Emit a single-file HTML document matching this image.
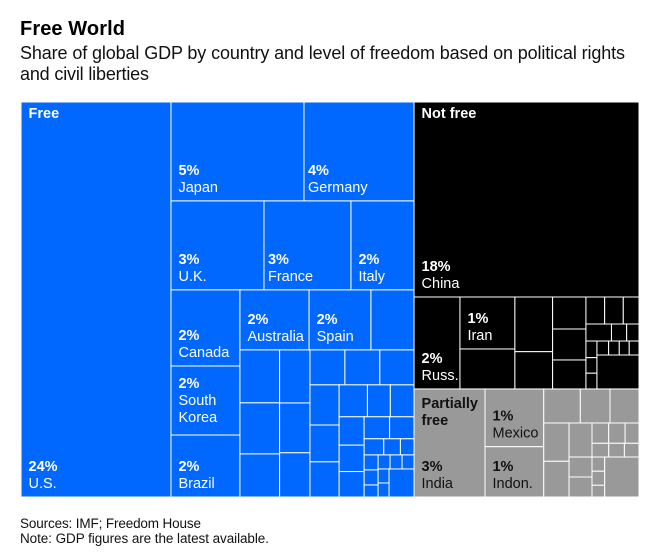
<!DOCTYPE html>
<html>
<head>
<meta charset="utf-8">
<title>Free World</title>
<style>
html,body{margin:0;padding:0;background:#fff;width:658px;height:558px;overflow:hidden}
svg{display:block}
text{font-family:"Liberation Sans",sans-serif}
.title{font-size:20px;font-weight:bold;fill:#000}
.sub{font-size:18px;fill:#111}
.foot{font-size:13.5px;fill:#111}
.pct{font-size:14.5px;font-weight:bold}
.name{font-size:14.5px}
.head{font-size:14.5px;font-weight:bold}
</style>
</head>
<body>
<svg id="chart" width="658" height="558" viewBox="0 0 658 558">
  <text class="title" x="20" y="35" textLength="105" lengthAdjust="spacing">Free World</text>
  <text class="sub" x="20" y="59" textLength="605" lengthAdjust="spacing">Share of global GDP by country and level of freedom based on political rights</text>
  <text class="sub" x="20" y="80" textLength="129" lengthAdjust="spacing">and civil liberties</text>
  <g id="treemap"></g>
  <text class="foot" x="20" y="528" textLength="181" lengthAdjust="spacing">Sources: IMF; Freedom House</text>
  <text class="foot" x="20" y="543" textLength="249" lengthAdjust="spacing">Note: GDP figures are the latest available.</text>
</svg>
<script>
// Share of global GDP (%), one entry per tile, in reading order of each group's tree.
const freeShares = [
  24.27, 5.39, 4.46, 3.39, 3.17, 2.30, 2.15, 1.95, 1.75, 1.70, 1.52, 1.06,
  0.86, 0.83, 0.70, 0.66, 0.62, 0.55, 0.50, 0.50, 0.49, 0.48, 0.44, 0.42,
  0.37, 0.30, 0.31, 0.29, 0.27, 0.26, 0.23, 0.22, 0.13, 0.11, 0.09,
  0.086, 0.086, 0.069, 0.069, 0.069, 0.069, 0.063, 0.063, 0.287
];
const notFreeShares = [
  17.97, 1.73, 1.17, 0.90, 0.845, 0.576, 0.437, 0.423, 0.396,
  0.207, 0.206, 0.174, 0.178, 0.106, 0.086, 0.075, 0.070, 0.071,
  0.067, 0.061, 0.057, 0.056, 0.585
];
const partlyFreeShares = [
  3.14, 1.39, 1.21, 0.510, 0.414, 0.404, 0.397, 0.370, 0.320,
  0.139, 0.136, 0.116, 0.094, 0.088, 0.082,
  0.188, 0.188, 0.074, 0.073, 0.061, 0.562
];

// Printed labels for the leading tiles of each group.
const freeNames = ['U.S.', 'Japan', 'Germany', 'U.K.', 'France', 'Italy', 'Canada', 'South|Korea', 'Brazil', 'Australia', 'Spain'];
const freePrinted = ['24%', '5%', '4%', '3%', '3%', '2%', '2%', '2%', '2%', '2%', '2%'];
const notFreeNames = ['China', 'Russ.', 'Iran'];
const notFreePrinted = ['18%', '2%', '1%'];
const partlyFreeNames = ['India', 'Mexico', 'Indon.'];
const partlyFreePrinted = ['3%', '1%', '1%'];
// Labels the reference sets closer to the left edge of their tile.
const tightLabels = ['Germany', 'France'];

// Nesting of the tiles: 'h' splits left-to-right, 'v' splits top-to-bottom, 0 is the next tile.
const freeTree = ['h', 0,
  ['v',
    ['h', 0, 0],
    ['h', 0, 0, 0],
    ['h',
      ['v', 0, 0, 0],
      ['v',
        ['h', 0, 0, 0],
        ['h',
          ['v', 0, 0, 0],
          ['v', 0, 0, 0],
          ['v',
            ['h', 0, 0, 0],
            ['h',
              ['v', 0, 0, 0],
              ['v',
                ['h', 0, 0, 0],
                ['h',
                  ['v', 0, 0, 0],
                  ['v',
                    ['h', 0, 0],
                    ['h', 0, 0, 0],
                    ['h',
                      ['v', 0, 0, 0],
                      ['v',
                        ['h', 0, 0, 0],
                        ['h', ['v', 0, 0], 0]
                      ]
                    ]
                  ]
                ]
              ]
            ]
          ]
        ]
      ]
    ]
  ]
];
const notFreeTree = ['v', 0,
  ['h', 0,
    ['v', 0, 0],
    ['v', 0, 0],
    ['v', 0, 0, 0],
    ['v',
      ['h', 0, 0, 0],
      ['h', 0, 0, 0],
      ['h',
        ['v', 0, 0, 0],
        ['v', ['h', 0, 0, 0, 0], 0]
      ]
    ]
  ]
];
const partlyFreeTree = ['h', 0,
  ['v', 0, 0],
  ['v',
    ['h', 0, 0, 0],
    ['h',
      ['v', 0, 0],
      ['v',
        ['h', 0, ['v', ['h', 0, 0, 0], ['h', 0, 0, 0]]],
        ['h', ['v', 0, 0], ['v', 0, 0, 0], 0]
      ]
    ]
  ]
];

const SVGNS = 'http://www.w3.org/2000/svg';
const host = document.getElementById('treemap');
const plot = { x: 21, y: 102, w: 618, h: 395 };

function attachValues(node, values, cursor) {
  if (node === 0) {
    const idx = cursor.i++;
    return { leaf: true, index: idx, weight: values[idx] };
  }
  const kids = node.slice(1).map(function (c) { return attachValues(c, values, cursor); });
  return { dir: node[0], kids: kids, weight: kids.reduce(function (s, k) { return s + k.weight; }, 0) };
}
function build(tree, values) {
  return attachValues(tree, values, { i: 0 });
}
function layout(node, x, y, w, h, out) {
  node.box = { x: x, y: y, w: w, h: h };
  if (node.leaf) { out.push(node); return; }
  let pos = 0;
  node.kids.forEach(function (k) {
    const frac = k.weight / node.weight;
    if (node.dir === 'h') {
      layout(k, x + pos, y, w * frac, h, out);
      pos += w * frac;
    } else {
      layout(k, x, y + pos, w, h * frac, out);
      pos += h * frac;
    }
  });
}
function addText(parent, cls, x, y, fill, str) {
  const t = document.createElementNS(SVGNS, 'text');
  t.setAttribute('class', cls);
  t.setAttribute('x', x);
  t.setAttribute('y', y);
  t.setAttribute('fill', fill);
  t.textContent = str;
  parent.appendChild(t);
  return t;
}
function drawGroup(root, groupName, color, textColor, names, printed) {
  const g = document.createElementNS(SVGNS, 'g');
  
  
  host.appendChild(g);
  const leaves = [];
  layout(root, root.box.x, root.box.y, root.box.w, root.box.h, leaves);
  leaves.forEach(function (leaf) {
    const b = leaf.box;
    const r = document.createElementNS(SVGNS, 'rect');
    r.setAttribute('x', b.x);
    r.setAttribute('y', b.y);
    r.setAttribute('width', b.w);
    r.setAttribute('height', b.h);
    r.setAttribute('fill', color);
    r.setAttribute('stroke', '#fff');
    r.setAttribute('stroke-width', '1');
    const label = names[leaf.index];
    const tileName = label ? label.replace('|', '-').replace('.', '').replace('.', '').toLowerCase() + '-tile' : groupName + '-tile-' + leaf.index;
    
    
    g.appendChild(r);
  });
  leaves.forEach(function (leaf) {
    const label = names[leaf.index];
    if (!label) return;
    const b = leaf.box;
    const lines = label.split('|');
    const base = b.y + b.h - (lines.length > 1 ? 13 : 9);
    const tx = b.x + (tightLabels.indexOf(label) >= 0 ? 4 : 7.5);
    const p = addText(g, 'pct', tx, base - 17 * lines.length, textColor, printed[leaf.index]);
    
    
    lines.forEach(function (line, i) {
      const n = addText(g, 'name', tx, base - 17 * (lines.length - 1 - i), textColor, line);
      
      
    });
  });
  return g;
}
function drawHeader(box, lines, dy, fill) {
  lines.forEach(function (line, i) {
    const h = addText(host, 'head', box.x + 7.5, box.y + dy + 17 * i, fill, line);
    
    
  });
}

const freeRoot = build(freeTree, freeShares);
const notFreeRoot = build(notFreeTree, notFreeShares);
const partlyFreeRoot = build(partlyFreeTree, partlyFreeShares);

const allWeight = freeRoot.weight + notFreeRoot.weight + partlyFreeRoot.weight;
const freeW = plot.w * freeRoot.weight / allWeight;
const restW = plot.w - freeW;
const notFreeH = plot.h * notFreeRoot.weight / (notFreeRoot.weight + partlyFreeRoot.weight);

freeRoot.box = { x: plot.x, y: plot.y, w: freeW, h: plot.h };
notFreeRoot.box = { x: plot.x + freeW, y: plot.y, w: restW, h: notFreeH };
partlyFreeRoot.box = { x: plot.x + freeW, y: plot.y + notFreeH, w: restW, h: plot.h - notFreeH };

drawGroup(freeRoot, 'free', '#0068ff', '#fff', freeNames, freePrinted);
drawGroup(notFreeRoot, 'not-free', '#000', '#fff', notFreeNames, notFreePrinted);
drawGroup(partlyFreeRoot, 'partially-free', '#999', '#111', partlyFreeNames, partlyFreePrinted);

drawHeader(freeRoot.box, ['Free'], 16, '#fff');
drawHeader(notFreeRoot.box, ['Not free'], 16, '#fff');
drawHeader(partlyFreeRoot.box, ['Partially', 'free'], 19, '#111');
</script>
</body>
</html>
